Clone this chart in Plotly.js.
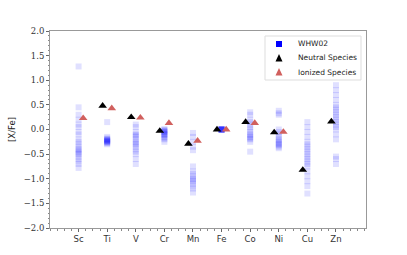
<!DOCTYPE html>
<html><head><meta charset="utf-8">
<script src="https://cdn.plot.ly/plotly-3.0.1.min.js"></script>
<style>html,body{margin:0;padding:0;background:#fff;}#c{width:407px;height:255px;}</style>
</head><body><div id="c"></div>
<script>
var elements = ["Sc","Ti","V","Cr","Mn","Fe","Co","Ni","Cu","Zn"];
// WHW02 model yields per element (many models, drawn as faint squares)
var whwSc = [1.28,0.45,0.3,0.2,0.1,0.05,-0.05,-0.1,-0.2,-0.25,-0.3,-0.35,-0.4,-0.42,-0.45,-0.48,-0.5,-0.55,-0.6,-0.65,-0.7,-0.78];
var whwTi = [0.15,-0.15,-0.18,-0.2,-0.22,-0.22,-0.24,-0.25,-0.25,-0.27,-0.28,-0.3,-0.2,-0.23];
var whwV  = [0.1,0.05,-0.05,-0.1,-0.12,-0.15,-0.2,-0.25,-0.28,-0.3,-0.35,-0.4,-0.45,-0.5,-0.6,-0.7];
var whwCr = [0.0,-0.02,-0.05,-0.05,-0.08,-0.1,-0.1,-0.12,-0.15,-0.18,-0.2,-0.25,0.0,-0.03];
var whwMn = [-0.07,-0.15,-0.25,-0.35,-0.42,-0.75,-0.85,-0.9,-0.95,-1.0,-1.02,-1.05,-1.1,-1.15,-1.2,-1.28];
var whwFe = [0,0,0,0,0,0,0,0,0,0,0,0];
var whwCo = [0.35,0.3,0.2,0.15,0.1,0.05,0.0,-0.05,-0.1,-0.12,-0.15,-0.18,-0.2,-0.25,-0.45];
var whwNi = [0.38,0.33,0.3,0.0,-0.05,-0.1,-0.15,-0.2,-0.22,-0.25,-0.28,-0.3,-0.32,-0.35,-0.38];
var whwCu = [0.15,0.05,-0.05,-0.15,-0.25,-0.3,-0.35,-0.4,-0.45,-0.5,-0.55,-0.6,-0.65,-0.7,-0.75,-0.85,-0.95,-1.05,-1.15,-1.3];
var whwZn = [0.9,0.8,0.7,0.6,0.5,0.45,0.4,0.35,0.3,0.25,0.2,0.15,0.1,0.05,0.0,-0.1,-0.2,-0.55,-0.6,-0.7];
// Observed abundances (null = not measured)
var neutral = [null,0.48,0.25,-0.03,-0.29,0.0,0.15,-0.06,-0.82,0.16];
var ionized = [0.23,0.43,0.24,0.13,-0.23,0.0,0.13,-0.05,null,null];
var legendNames = ["WHW02","Neutral Species","Ionized Species"];

var whwAll = [whwSc,whwTi,whwV,whwCr,whwMn,whwFe,whwCo,whwNi,whwCu,whwZn];
var wx=[], wy=[];
whwAll.forEach(function(arr,i){arr.forEach(function(v){wx.push(i);wy.push(v);});});
var idx = elements.map(function(_,i){return i;});
var off = 0.16;
var RED = '#d1605e';

var traces = [
 {x:wx,y:wy,mode:'markers',type:'scatter',showlegend:false,hoverinfo:'skip',
  marker:{symbol:'square',size:6,color:'rgba(0,0,255,0.12)',line:{width:0}}},
 {x:idx.map(function(i){return i-off;}),y:neutral,mode:'markers',type:'scatter',showlegend:false,
  marker:{symbol:'triangle-up',size:7.5,color:'#000000'}},
 {x:idx.map(function(i){return i+off;}),y:ionized,mode:'markers',type:'scatter',showlegend:false,
  marker:{symbol:'triangle-up',size:7.5,color:RED}}
];

// Manual legend (paper-pixel geometry)
var W=407,H=255,ml=50,mr=41,mt=31,mb=27;
var pw=W-ml-mr, ph=H-mt-mb;
function px(x){return (x-ml)/pw;}
function py(y){return 1-(y-mt)/ph;}
var shapes=[
 {type:'rect',xref:'paper',yref:'paper',x0:px(265),x1:px(361),y0:py(80),y1:py(36),
  line:{color:'#dddddd',width:1},fillcolor:'rgba(255,255,255,0.9)',layer:'above'},
 {type:'rect',xref:'paper',yref:'paper',x0:px(276),x1:px(282),y0:py(47),y1:py(41),
  line:{width:0},fillcolor:'#0000ff',layer:'above'},
 {type:'path',xref:'paper',yref:'paper',layer:'above',line:{width:0},fillcolor:'#000000',
  path:'M '+px(275.5)+' '+py(61.5)+' L '+px(282.5)+' '+py(61.5)+' L '+px(279)+' '+py(54)+' Z'},
 {type:'path',xref:'paper',yref:'paper',layer:'above',line:{width:0},fillcolor:RED,
  path:'M '+px(275.5)+' '+py(75.5)+' L '+px(282.5)+' '+py(75.5)+' L '+px(279)+' '+py(68)+' Z'}
];
var legY=[44,58,72];
var annotations = legendNames.map(function(t,i){
  return {xref:'paper',yref:'paper',x:px(296),y:py(legY[i]),xanchor:'left',yanchor:'middle',
   text:t,showarrow:false,font:{family:'DejaVu Sans',size:7.5,color:'#222'}};
});

var layout = {
 width:W,height:H,margin:{l:ml,r:mr,t:mt,b:mb},
 paper_bgcolor:'#fff',plot_bgcolor:'#fff',showlegend:false,
 shapes:shapes,annotations:annotations,
 xaxis:{range:[-1,10.05],tickmode:'array',tickvals:idx,ticktext:elements,
   showgrid:false,zeroline:false,showline:true,mirror:true,linecolor:'#999',linewidth:1,
   ticks:'outside',ticklen:3,tickcolor:'#666',
   minor:{dtick:0.25,ticks:'outside',ticklen:1.5,tickcolor:'#888'},
   tickfont:{family:'DejaVu Sans',size:8.5,color:'#333'}},
 yaxis:{range:[-2,2],tickmode:'array',tickvals:[-2,-1.5,-1,-0.5,0,0.5,1,1.5,2],
   ticktext:['\u22122.0','\u22121.5','\u22121.0','\u22120.5','0.0','0.5','1.0','1.5','2.0'],
   showgrid:false,zeroline:false,showline:true,mirror:true,linecolor:'#999',linewidth:1,
   ticks:'outside',ticklen:3,tickcolor:'#666',
   minor:{dtick:0.1,ticks:'outside',ticklen:1.5,tickcolor:'#888'},
   tickfont:{family:'DejaVu Serif',size:8.5,color:'#333'},
   title:{text:'[X/Fe]',font:{family:'DejaVu Sans',size:8.5,color:'#222'},standoff:6}}
};
Plotly.newPlot('c',traces,layout,{staticPlot:true,displayModeBar:false});
</script></body></html>
